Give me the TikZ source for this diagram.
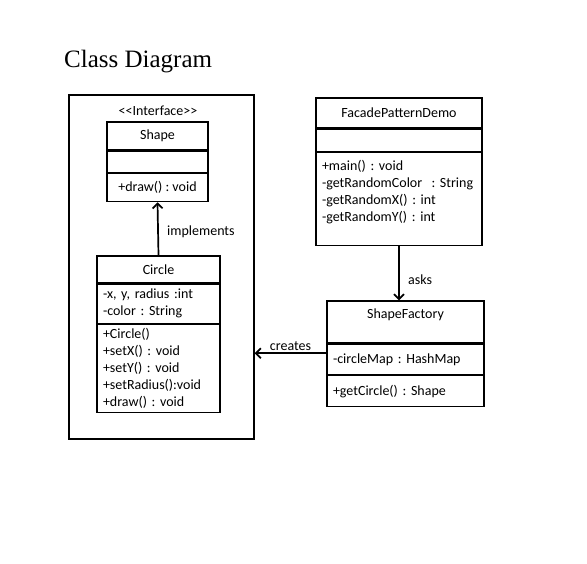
\documentclass[tikz,border=0pt]{standalone}
\usepackage{fontspec}
\setmainfont{Carlito}
\newfontfamily\titlefont{Liberation Serif}
\usetikzlibrary{positioning, arrows.meta}

\begin{document}
\begin{tikzpicture}[
            x=1pt, y=-1pt,
            font=\fontsize{14}{17}\selectfont\frenchspacing,
            sect/.style={rectangle, draw, line width=1.3pt, inner xsep=6pt, inner ysep=2pt},
            cname/.style={sect, align=center},
            members/.style={sect, align=left, text width=#1},
            pkgbox/.style={rectangle, draw, line width=1.3pt, minimum width=185pt, minimum height=344pt},
            arr/.style={-{Straight Barb[length=5pt, width=10pt]}, line width=1.7pt}
        ]
            \useasboundingbox (0,0) rectangle (587,563);
            \node[font=\titlefont\fontsize{25}{30}\selectfont, anchor=base west, inner sep=0pt] (title) at (64,67) {Class Diagram};
            % package box with the interface and its implementation
            \node[pkgbox] (pkg) at (161.5,267) {};
            \node (stereo) at (158,111) {<{}<Interface>{}>};
            \node[cname, minimum width=101pt, minimum height=28pt] (shapeName) at (157.5,136) {Shape};
            \node[cname, minimum width=101pt, minimum height=21pt, below=0pt of shapeName] (shapeAttr) {};
            \node[cname, minimum width=101pt, minimum height=28pt, below=0pt of shapeAttr] (shapeOps) {+draw() : void};
            \draw[line width=2.2pt] (shapeOps.north west) -- (shapeOps.north east);
            \node[cname, minimum width=123pt, minimum height=27pt] (circleName) at (158.5,269.5) {Circle};
            \node[members=111pt, minimum height=39pt, below=0pt of circleName] (circleAttr) {-x, y, radius :int\\-color : String};
            \node[members=111pt, minimum height=88pt, below=0pt of circleAttr] (circleOps) {+Circle()\\+setX() : void\\+setY() : void\\+setRadius():void\\+draw() : void};
            % demo and factory
            \node[cname, minimum width=166pt, minimum height=30pt] (demoName) at (399,113) {FacadePatternDemo};
            \node[cname, minimum width=166pt, minimum height=22pt, below=0pt of demoName] (demoAttr) {};
            \node[members=154pt, minimum height=93pt, below=0pt of demoAttr] (demoOps) {+main() : void\\-getRandomColor\ \ : String\\-getRandomX() : int\\-getRandomY() : int\\\mbox{}};
            \node[cname, minimum width=157pt, minimum height=42pt] (factoryName) at (405.5,322) {ShapeFactory\\\mbox{}};
            \node[members=145pt, minimum height=30pt, below=0pt of factoryName] (factoryAttr) {-circleMap : HashMap};
            \node[members=145pt, minimum height=31pt, below=0pt of factoryAttr] (factoryOps) {+getCircle() : Shape};
            \draw[arr] (circleName.north) -- (shapeOps.south)
                node[midway, right=5pt, yshift=-3pt] {implements};
            \draw[arr] (demoOps.south) -- (demoOps.south |- factoryName.north)
                node[midway, right=5pt, yshift=-6pt] {asks};
            \draw[arr] ([yshift=6pt]factoryAttr.west) coordinate (crStart) -- (crStart -| pkg.east)
                node[midway, above=-1pt] {creates};
        \end{tikzpicture}
\end{document}
